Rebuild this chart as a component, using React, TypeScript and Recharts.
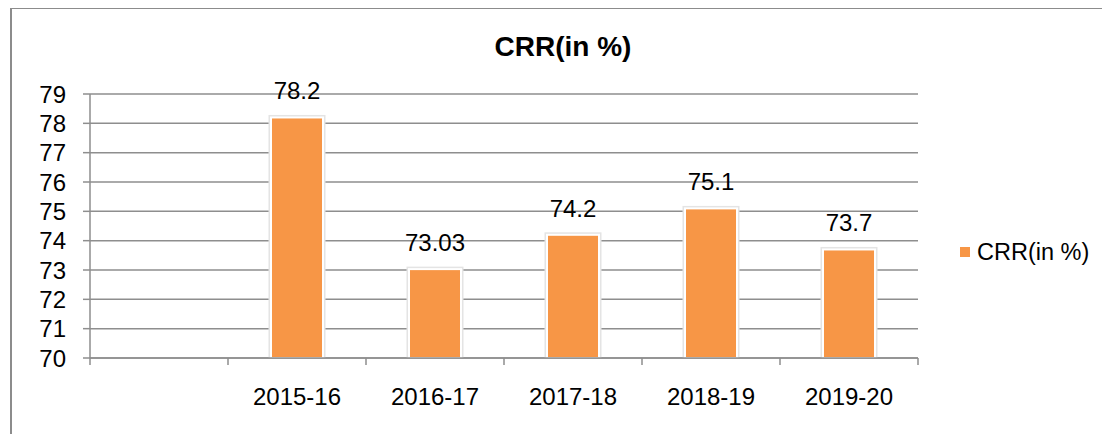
import React from 'react'
import { BarChart, Bar, XAxis, YAxis, CartesianGrid, LabelList } from 'recharts'

// first slot is left empty in the original sheet
const years = ['', '2015-16', '2016-17', '2017-18', '2018-19', '2019-20']
const crr = [null, 78.2, 73.03, 74.2, 75.1, 73.7]
const yTicks = [70, 71, 72, 73, 74, 75, 76, 77, 78, 79]
const seriesName = 'CRR(in %)'

const data = years.map((year, i) => ({ year, crr: crr[i] }))

const FONT = '"Liberation Sans", Arial, sans-serif'
const ORANGE = '#F79646'
const GRID = '#8e8e8e'
const HALF_BAND = 69

const XTick = (props: any) => {
  const { x, y, payload, index, visibleTicksCount } = props
  const last = index === visibleTicksCount - 1
  return (
    <g>
      <line x1={x - HALF_BAND} x2={x - HALF_BAND} y1={y} y2={y + 7} stroke={GRID} strokeWidth={1.5} />
      {last && <line x1={x + HALF_BAND} x2={x + HALF_BAND} y1={y} y2={y + 7} stroke={GRID} strokeWidth={1.5} />}
      <text x={x} y={y + 47} textAnchor="middle" fontSize={24} fontFamily={FONT} fill="#000">
        {payload.value}
      </text>
    </g>
  )
}

const BarShape = (props: any) => {
  const { x, y, width, height } = props
  if (!height) return null
  return (
    <g>
      <rect x={x - 2.5} y={y - 2.5} width={width + 5} height={height + 2.5} fill="#e4e4e4" />
      <rect x={x} y={y} width={width} height={height} fill={ORANGE} stroke="#fff" strokeWidth={2} />
    </g>
  )
}

const TopLabel = (props: any) => {
  const { x, y, width, value } = props
  if (value == null) return null
  return (
    <text x={x + width / 2} y={y - 18} textAnchor="middle" fontSize={24} fontFamily={FONT} fill="#000">
      {value}
    </text>
  )
}

export default function App() {
  return (
    <div style={{ position: 'relative', width: 1110, height: 434, margin: '-8px 0 0 -8px', overflow: 'hidden', background: '#fff' }}>
      <div
        style={{
          position: 'absolute',
          left: 10,
          top: 7,
          width: 1110,
          height: 440,
          borderLeft: '2px solid #8c8c8c',
          borderTop: '2px solid #8c8c8c',
        }}
      />
      <div
        style={{
          position: 'absolute',
          left: 463,
          top: 30,
          width: 200,
          textAlign: 'center',
          fontFamily: FONT,
          fontWeight: 'bold',
          fontSize: 28,
          lineHeight: '34px',
        }}
      >
        {seriesName}
      </div>
      <div
        style={{
          position: 'absolute',
          left: 960,
          top: 238,
          display: 'flex',
          alignItems: 'center',
          fontFamily: FONT,
          fontSize: 23.5,
          lineHeight: '28px',
        }}
      >
        <span style={{ width: 10, height: 10, background: ORANGE, marginRight: 7, display: 'inline-block' }} />
        <span>{seriesName}</span>
      </div>
      <BarChart
        width={1110}
        height={434}
        data={data}
        margin={{ top: 94, right: 192, left: 30, bottom: 36 }}
        style={{ position: 'absolute', left: 0, top: 0 }}
      >
        <CartesianGrid vertical={false} stroke={GRID} strokeWidth={1.5} />
        <XAxis
          dataKey="year"
          interval={0}
          height={40}
          tickSize={0}
          tickMargin={0}
          tickLine={false}
          axisLine={{ stroke: GRID, strokeWidth: 1.5 }}
          tick={<XTick />}
        />
        <YAxis
          domain={[70, 79]}
          ticks={yTicks}
          interval={0}
          allowDataOverflow
          width={60}
          tickSize={7}
          tickMargin={17}
          tickLine={{ stroke: GRID, strokeWidth: 1.5 }}
          axisLine={{ stroke: GRID, strokeWidth: 1.5 }}
          tick={{ fill: '#000', fontSize: 24, fontFamily: FONT }}
        />
        <Bar dataKey="crr" name={seriesName} fill={ORANGE} barSize={52} shape={<BarShape />} isAnimationActive={false}>
          <LabelList dataKey="crr" content={<TopLabel />} />
        </Bar>
      </BarChart>
    </div>
  )
}
